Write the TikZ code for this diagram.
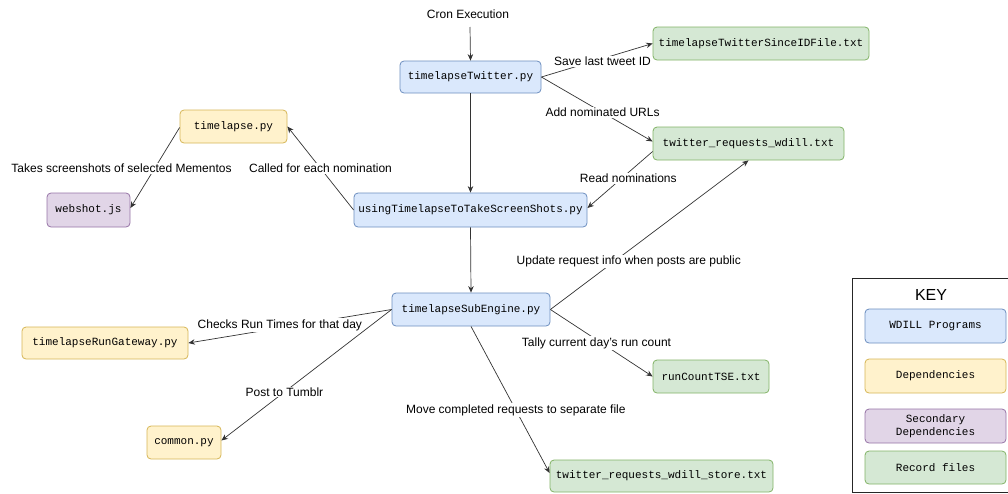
\documentclass[tikz,border=0pt]{standalone}
\usepackage{fontspec}
\setmainfont{Liberation Sans}
\setmonofont{Liberation Mono}
\usetikzlibrary{arrows.meta}
\definecolor{bfill}{HTML}{DAE8FC}\definecolor{bdraw}{HTML}{6C8EBF}
\definecolor{yfill}{HTML}{FFF2CC}\definecolor{ydraw}{HTML}{D6B656}
\definecolor{pfill}{HTML}{E1D5E7}\definecolor{pdraw}{HTML}{9673A6}
\definecolor{gfill}{HTML}{D5E8D4}\definecolor{gdraw}{HTML}{82B366}
\begin{document}
\begin{tikzpicture}[x=1pt,y=-1pt,
  box/.style={draw, rounded corners=4pt, line width=0.8pt, inner sep=0pt,
    font=\ttfamily\fontsize{11}{13}\selectfont, align=center},
  prog/.style={box, fill=bfill, draw=bdraw},
  dep/.style={box, fill=yfill, draw=ydraw},
  sdep/.style={box, fill=pfill, draw=pdraw},
  rec/.style={box, fill=gfill, draw=gdraw},
  lbl/.style={font=\fontsize{12}{14}\selectfont, fill=white, inner sep=1pt},
  arr/.style={draw=black!80, line width=0.7pt, -{Stealth[length=6.5pt,width=5.5pt]}}]
\useasboundingbox (0,0) rectangle (1008,493);
% nodes
\node (cron) at (468,14) [font=\fontsize{12}{14}\selectfont] {Cron Execution};
\node[prog, minimum width=141, minimum height=32] (tw) at (470.5,77) {timelapseTwitter.py};
\node[rec, minimum width=216, minimum height=33] (since) at (761,43.5) {timelapseTwitterSinceIDFile.txt};
\node[rec, minimum width=191, minimum height=33] (req) at (748.5,143.5) {twitter\_requests\_wdill.txt};
\node[dep, minimum width=107, minimum height=33] (tl) at (233.5,126.5) {timelapse.py};
\node[sdep, minimum width=83, minimum height=34] (web) at (88.5,210) {webshot.js};
\node[prog, minimum width=233, minimum height=34] (using) at (470.5,210) {usingTimelapseToTakeScreenShots.py};
\node[prog, minimum width=158, minimum height=33] (sub) at (471,309.5) {timelapseSubEngine.py};
\node[dep, minimum width=166, minimum height=32] (gate) at (105,343) {timelapseRunGateway.py};
\node[dep, minimum width=74, minimum height=33] (common) at (184,442.5) {common.py};
\node[rec, minimum width=116, minimum height=33] (run) at (711,376.5) {runCountTSE.txt};
\node[rec, minimum width=223, minimum height=32] (store) at (661.5,476) {twitter\_requests\_wdill\_store.txt};
% key
\node[draw=black!85, line width=0.8pt, minimum width=158, minimum height=214, inner sep=0pt] (keybox) at (931.5,385) {};
\node (keytitle) at (931,295) [font=\fontsize{16}{18}\selectfont] {KEY};
\node[prog, minimum width=141, minimum height=34] (k1) at (935.5,326) {WDILL Programs};
\node[dep, minimum width=141, minimum height=34] (k2) at (935.5,376) {Dependencies};
\node[sdep, minimum width=141, minimum height=34] (k3) at (935.5,426) {Secondary\\Dependencies};
\node[rec, minimum width=141, minimum height=33] (k4) at (935.5,467.5) {Record files};
% edges
\coordinate (cronend) at (470,27);
\draw[arr] (cronend) -- (tw.north);
\draw[arr] (tw.east) -- node[lbl, pos=0.55, yshift=-3pt] {Save last tweet ID} (since.west);
\draw[arr] (tw.east) -- node[lbl, pos=0.55] {Add nominated URLs} ([yshift=2pt]req.west);
\draw[arr] ([yshift=-8pt]req.west) -- node[lbl, pos=0.48, xshift=7pt] {Read nominations} ([yshift=2pt]using.east);
\draw[arr] (tw.south) -- (using.north);
\draw[arr] (using.west) -- node[lbl, pos=0.5] {Called for each nomination} (tl.east);
\draw[arr] ([yshift=-1pt]tl.west) -- node[lbl, pos=0.51, xshift=-33pt] {Takes screenshots of selected Mementos} ([yshift=2pt]web.east);
\draw[arr] (using.south) -- (sub.north);
\draw[arr] (sub.east) -- node[lbl, pos=0.32, xshift=15pt] {Update request info when posts are public} (req.south);
\draw[arr] (sub.east) -- node[lbl, pos=0.5, xshift=-5pt] {Tally current day's run count} (run.west);
\draw[arr] (sub.south) -- node[lbl, pos=0.57] {Move completed requests to separate file} ([yshift=3pt]store.west);
\draw[arr] (sub.west) -- node[lbl, pos=0.55, yshift=3pt] {Checks Run Times for that day} (gate.east);
\draw[arr] (sub.west) -- node[lbl, pos=0.63] {Post to Tumblr} ([yshift=2pt]common.east);
\end{tikzpicture}
\end{document}
